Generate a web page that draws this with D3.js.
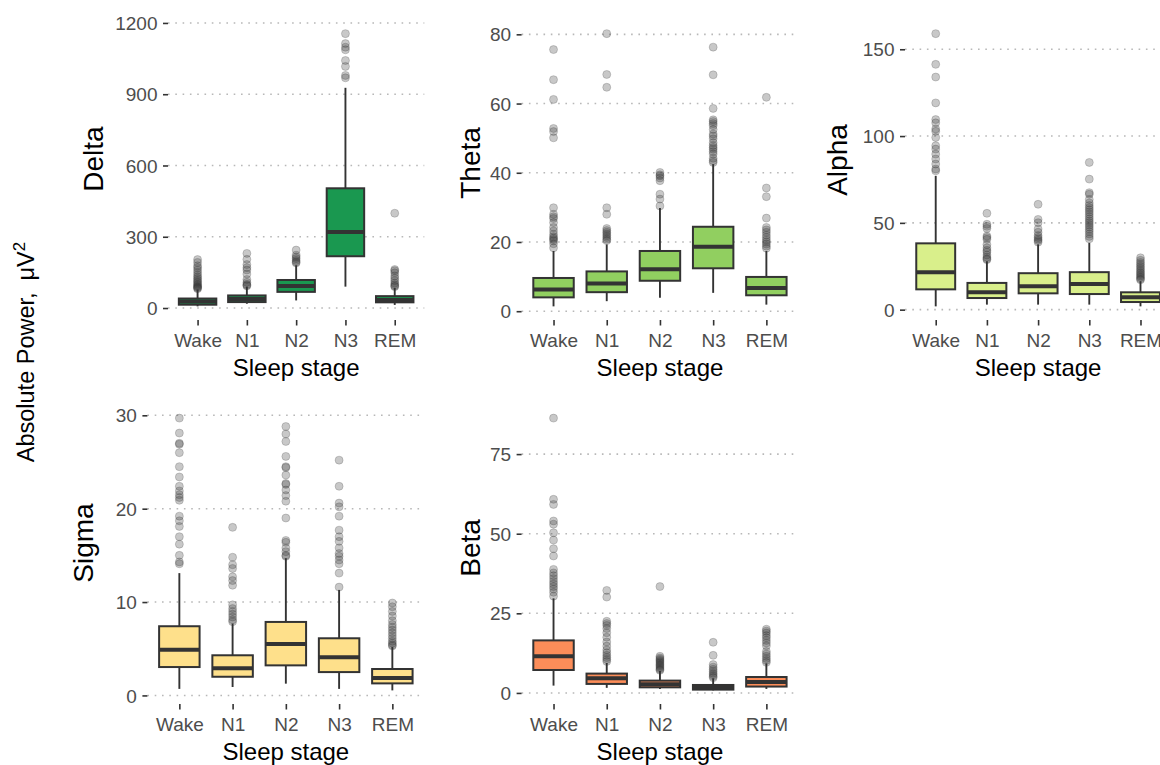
<!DOCTYPE html>
<html>
<head>
<meta charset="utf-8">
<script src="https://cdn.jsdelivr.net/npm/d3@7"></script>
<style>
  body { margin: 0; background: #fff; }
  svg { display: block; font-family: "Liberation Sans", Arial, sans-serif; }
</style>
</head>
<body>
<svg id="chart" width="1160" height="765"></svg>
<script>
// Sleep stages on the x axis of every panel
const stages = ["Wake", "N1", "N2", "N3", "REM"];

// Box summaries per stage: [lower whisker, Q1, median, Q3, upper whisker]
const deltaStats = [[7, 14, 27, 40, 78], [18, 25, 38, 53, 90], [32, 68, 93, 118, 180], [90, 218, 320, 504, 927], [13, 24, 34, 50, 85]];
const deltaOutliers = [
  [204, 192, 178, 170, 160, 150, 140, 132, 125, 118, 112, 106, 100, 95, 91, 87, 84, 81],
  [230, 205, 183, 170, 160, 143, 120, 108, 100, 96, 93],
  [244, 222, 215, 208, 200, 194, 190],
  [1155, 1113, 1098, 1087, 1042, 1017, 979, 969],
  [399, 162, 157, 148, 135, 125, 115, 105, 98, 93, 90]
];
const deltaTicks = [0, 300, 600, 900, 1200];

const thetaStats = [[1.4, 4.0, 6.3, 9.6, 17.4], [2.9, 5.5, 8.0, 11.5, 19.3], [3.9, 8.8, 12.1, 17.4, 29.8], [5.3, 12.4, 18.6, 24.4, 42.5], [1.9, 4.6, 6.7, 9.9, 17.4]];
const thetaOutliers = [
  [75.6, 66.9, 61.2, 52.8, 51.9, 50.1, 29.9, 28.0, 27.3, 26.8, 25.6, 24.2, 23.2, 22.2, 21.5, 21.1, 20.7, 20.3, 19.5, 18.3],
  [80.2, 68.4, 64.7, 29.9, 28.0, 23.9, 23.3, 22.8, 22.3, 21.8, 21.3, 20.8, 20.4],
  [40.1, 39.4, 39.1, 38.5, 37.7, 33.8, 32.4, 30.4],
  [76.3, 68.3, 58.6, 55.3, 54.8, 54.2, 53.6, 52.5, 51.2, 50.6, 49.8, 48.7, 47.9, 47.3, 46.8, 46.1, 45.4, 44.2, 43.5, 43.0],
  [61.8, 35.6, 33.1, 26.9, 24.2, 23.5, 22.8, 22.0, 21.3, 20.6, 20.0, 19.4, 18.8, 18.2]
];
const thetaTicks = [0, 20, 40, 60, 80];

const alphaStats = [[1.9, 11.7, 21.6, 38.2, 77.1], [2.9, 6.7, 10.0, 15.4, 27.9], [2.9, 9.4, 13.5, 21.0, 37.6], [2.9, 9.0, 14.8, 21.6, 38.5], [1.9, 4.4, 7.1, 10.0, 16.4]];
const alphaOutliers = [
  [159, 141.3, 134, 119.1, 109.5, 107.6, 104.1, 102.7, 99.2, 94.4, 92.5, 89.6, 86.8, 83.9, 81.0, 80.0],
  [55.5, 49.2, 48.0, 46.8, 42.4, 41.5, 40.5, 37.5, 35.6, 34.2, 33.2, 31.5, 30.2, 29.3, 28.8],
  [60.7, 52.0, 50.1, 46.5, 44.6, 42.7, 41.6, 40.6, 39.8, 38.9],
  [84.8, 75.2, 67.4, 66.5, 63.5, 61.5, 60.0, 58.7, 57.5, 56.3, 55.0, 53.6, 52.3, 51.1, 50.0, 48.8, 47.6, 46.3, 45.0, 43.6, 42.2, 40.8],
  [29.9, 28.4, 27.2, 26.1, 25.0, 24.0, 23.0, 22.0, 21.1, 20.3, 19.4, 18.6, 17.8, 17.2]
];
const alphaTicks = [0, 50, 100, 150];

const sigmaStats = [[0.7, 3.04, 4.9, 7.41, 13.1], [0.9, 2.0, 2.9, 4.3, 7.7], [1.26, 3.22, 5.5, 7.87, 14.7], [0.7, 2.5, 4.08, 6.12, 11.3], [0.54, 1.29, 1.86, 2.83, 5.2]];
const sigmaOutliers = [
  [29.7, 28.1, 27.0, 26.9, 26.0, 24.5, 23.4, 22.4, 21.9, 21.5, 21.2, 20.9, 19.2, 18.7, 18.1, 17.0, 16.2, 15.0, 14.3, 14.1],
  [18.0, 14.8, 14.0, 13.6, 12.7, 12.3, 11.8, 9.7, 9.3, 9.0, 8.7, 8.4, 8.1, 7.9],
  [28.8, 28.0, 27.2, 25.6, 24.5, 24.4, 23.6, 22.7, 22.6, 22.0, 21.4, 20.8, 19.0, 16.6, 16.4, 15.8, 15.4, 15.0, 14.9],
  [25.2, 22.4, 20.6, 20.2, 19.2, 17.7, 17.0, 16.5, 15.8, 15.2, 14.9, 14.5, 14.1, 13.1, 11.6],
  [9.9, 9.5, 9.0, 8.5, 8.0, 7.6, 7.3, 7.0, 6.7, 6.4, 6.1, 5.8, 5.6, 5.4, 5.3]
];
const sigmaTicks = [0, 10, 20, 30];

const betaStats = [[2.3, 7.2, 11.5, 16.5, 29.7], [1.6, 2.83, 4.6, 6.07, 9.4], [1.26, 1.76, 2.7, 3.87, 6.9], [0.8, 1.04, 1.7, 2.5, 4.6], [1.26, 2.0, 3.4, 5.0, 9.3]];
const betaOutliers = [
  [86.3, 60.8, 59.2, 54.0, 53.0, 50.3, 48.0, 45.3, 43.0, 38.8, 37.7, 36.8, 35.9, 35.0, 34.2, 33.4, 32.6, 31.6, 30.4],
  [32.2, 30.1, 22.5, 21.8, 21.2, 20.2, 18.9, 17.5, 16.0, 14.7, 13.5, 12.6, 11.8, 11.1, 10.5, 9.9],
  [33.4, 11.5, 11.0, 10.6, 10.2, 9.8, 9.4, 9.0, 8.6, 8.2, 7.8, 7.4, 7.1],
  [15.9, 11.8, 8.9, 8.1, 7.4, 6.8, 6.2, 5.7, 5.2, 4.8],
  [20.0, 19.4, 18.8, 18.0, 17.3, 16.5, 15.7, 14.8, 13.0, 12.2, 11.5, 10.8, 10.2, 9.6]
];
const betaTicks = [0, 25, 50, 75];

// Panel layout: plotting area [left, right, top, bottom] and y-title placement
const panels = [
  { title: "Delta", fill: "#1A9850", stats: deltaStats, outliers: deltaOutliers, ticks: deltaTicks, area: [168, 424.3, 20, 320], titleX: 102.5, titleY: 159 },
  { title: "Theta", fill: "#91CF60", stats: thetaStats, outliers: thetaOutliers, ticks: thetaTicks, area: [521.6, 798.3, 20, 320], titleX: 480, titleY: 163 },
  { title: "Alpha", fill: "#D9EF8B", stats: alphaStats, outliers: alphaOutliers, ticks: alphaTicks, area: [905, 1171.2, 20, 320], titleX: 847, titleY: 160 },
  { title: "Sigma", fill: "#FEE08B", stats: sigmaStats, outliers: sigmaOutliers, ticks: sigmaTicks, area: [147.4, 424.3, 404.5, 704], titleX: 92.7, titleY: 543 },
  { title: "Beta", fill: "#FC8D59", stats: betaStats, outliers: betaOutliers, ticks: betaTicks, area: [521.6, 798.3, 404.5, 704], titleX: 480, titleY: 548 }
];

const svg = d3.select("#chart");
svg.append("rect").attr("width", 1160).attr("height", 765).attr("fill", "#fff");

const font = '"Liberation Sans", Arial, sans-serif';
const ink = "#333333";

panels.forEach(p => {
  const [x0, x1, y0, y1] = p.area;
  const x = d3.scalePoint().domain(stages).range([x0, x1]).padding(0.6);
  const vals = p.stats.flat().concat(p.outliers.flat());
  const [mn, mx] = d3.extent(vals);
  const pad = (mx - mn) * 0.05;
  const y = d3.scaleLinear().domain([mn - pad, mx + pad]).range([y1, y0]);

  const g = svg.append("g");

  // dotted horizontal grid
  g.append("g").selectAll("line").data(p.ticks).join("line")
    .attr("x1", x0).attr("x2", x1)
    .attr("y1", d => y(d)).attr("y2", d => y(d))
    .attr("stroke", "#b8b8b8").attr("stroke-width", 1.6)
    .attr("stroke-dasharray", "1.6 5.7");

  // y axis
  const ya = g.append("g").attr("transform", `translate(${x0},0)`)
    .call(d3.axisLeft(y).tickValues(p.ticks).tickFormat(d3.format("d")).tickSize(5).tickPadding(5.5));
  ya.attr("font-family", font).attr("font-size", 19);
  ya.select(".domain").remove();
  ya.selectAll(".tick line").attr("stroke", ink).attr("stroke-width", 1.6);
  ya.selectAll(".tick text").attr("fill", "#4d4d4d").attr("dy", "0.35em");

  // x axis
  const xa = g.append("g").attr("transform", `translate(0,${y1})`)
    .call(d3.axisBottom(x).tickSize(5.5));
  xa.attr("font-family", font).attr("font-size", 19);
  xa.select(".domain").remove();
  xa.selectAll(".tick line").attr("stroke", ink).attr("stroke-width", 1.6);
  xa.selectAll(".tick text").attr("fill", "#4d4d4d").attr("y", 27).attr("dy", null);

  // boxes
  const bw = x.step() * 0.76;
  stages.forEach((s, i) => {
    const [lo, q1, md, q3, hi] = p.stats[i];
    const cx = x(s);
    const bg = g.append("g");
    bg.selectAll("circle").data(p.outliers[i]).join("circle")
      .attr("cx", cx).attr("cy", d => y(d)).attr("r", 4)
      .attr("fill", ink).attr("fill-opacity", 0.27)
      .attr("stroke", ink).attr("stroke-opacity", 0.27).attr("stroke-width", 0.8);
    bg.append("line").attr("x1", cx).attr("x2", cx).attr("y1", y(q3)).attr("y2", y(hi))
      .attr("stroke", ink).attr("stroke-width", 1.9);
    bg.append("line").attr("x1", cx).attr("x2", cx).attr("y1", y(q1)).attr("y2", y(lo))
      .attr("stroke", ink).attr("stroke-width", 1.9);
    bg.append("rect").attr("x", cx - bw / 2).attr("width", bw)
      .attr("y", y(q3)).attr("height", y(q1) - y(q3))
      .attr("fill", p.fill).attr("stroke", ink).attr("stroke-width", 2);
    bg.append("line").attr("x1", cx - bw / 2).attr("x2", cx + bw / 2)
      .attr("y1", y(md)).attr("y2", y(md))
      .attr("stroke", ink).attr("stroke-width", 4);
  });

  // axis titles
  g.append("text").attr("x", (x0 + x1) / 2).attr("y", y1 + 56)
    .attr("text-anchor", "middle").attr("font-family", font).attr("font-size", 24)
    .attr("fill", "#000").text("Sleep stage");
  g.append("text")
    .attr("transform", `translate(${p.titleX},${p.titleY}) rotate(-90)`)
    .attr("text-anchor", "middle").attr("font-family", font).attr("font-size", 28)
    .attr("fill", "#000").text(p.title);
});

// shared y label
const lab = svg.append("text")
  .attr("transform", "translate(34,352) rotate(-90)")
  .attr("text-anchor", "middle").attr("font-family", font).attr("font-size", 23.5).attr("fill", "#000");
lab.append("tspan").text("Absolute Power,");
lab.append("tspan").attr("dx", 12).text("μV");
lab.append("tspan").attr("baseline-shift", "super").attr("font-size", 17).text("2");
</script>
</body>
</html>
